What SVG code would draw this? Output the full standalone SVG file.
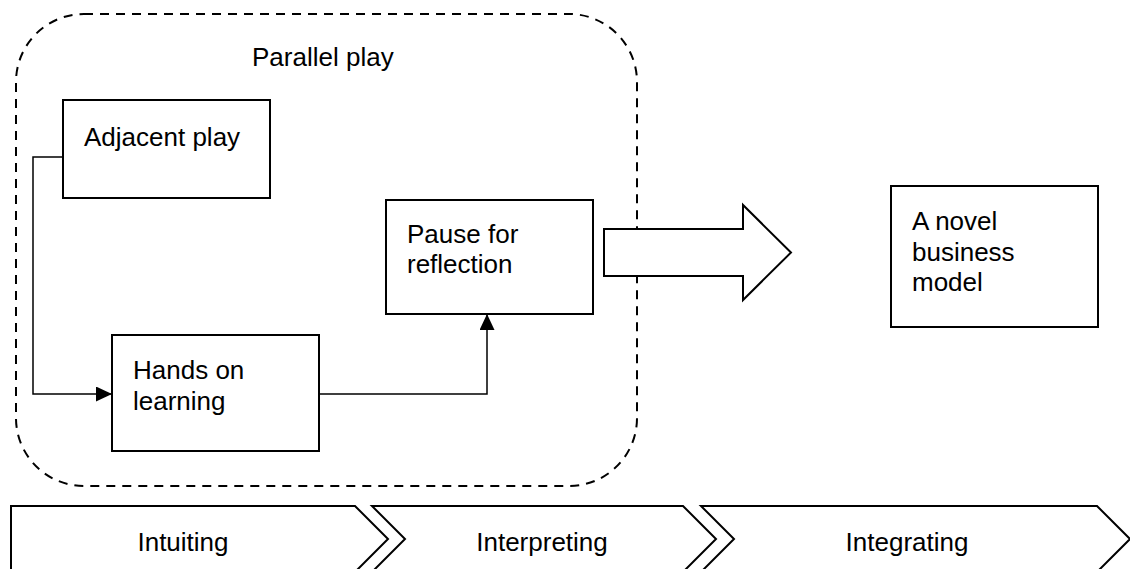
<svg xmlns="http://www.w3.org/2000/svg" width="1130" height="569" viewBox="0 0 1130 569">
  <defs>
    <style>
      .box { fill: #fff; stroke: #000; stroke-width: 2; }
      .group { fill: none; stroke: #000; stroke-width: 2; stroke-dasharray: 9 7; }
      .link { fill: none; stroke: #000; stroke-width: 1.5; }
      .label { font-family: "Liberation Sans", Arial, sans-serif; font-size: 26px; fill: #000; }
      .mid { text-anchor: middle; }
    </style>
    <marker id="arrowhead" viewBox="0 0 16 15" refX="16" refY="7.5" markerWidth="16" markerHeight="15" markerUnits="userSpaceOnUse" orient="auto">
      <path d="M0,0 L16,7.5 L0,15 Z" fill="#000"/>
    </marker>
  </defs>

  <rect width="1130" height="569" fill="#fff"/>

  <!-- Parallel play boundary -->
  <g id="parallel-play">
    <rect class="group" x="16" y="14" width="621" height="472" rx="68" ry="68"/>
    <text class="label" x="252" y="66">Parallel play</text>
  </g>

  <!-- Connectors -->
  <g id="connectors">
    <path class="link" d="M63,157 H33 V394 H112" marker-end="url(#arrowhead)"/>
    <path class="link" d="M319,394 H487 V314" marker-end="url(#arrowhead)"/>
  </g>

  <g id="adjacent-play">
    <rect class="box" x="63" y="100" width="207" height="98"/>
    <text class="label" x="84" y="146">Adjacent play</text>
  </g>

  <g id="hands-on-learning">
    <rect class="box" x="112" y="335" width="207" height="116"/>
    <text class="label" x="133" y="379">Hands on</text>
    <text class="label" x="133" y="410">learning</text>
  </g>

  <g id="pause-for-reflection">
    <rect class="box" x="386" y="200" width="207" height="114"/>
    <text class="label" x="407" y="243">Pause for</text>
    <text class="label" x="407" y="273">reflection</text>
  </g>

  <!-- Block arrow towards the outcome -->
  <g id="block-arrow">
    <polygon class="box" points="604,229 743,229 743,205 791,252.5 743,300 743,276 604,276"/>
  </g>

  <g id="novel-business-model">
    <rect class="box" x="891" y="186" width="207" height="141"/>
    <text class="label" x="912" y="230">A novel</text>
    <text class="label" x="912" y="261">business</text>
    <text class="label" x="912" y="291">model</text>
  </g>

  <!-- Process stages -->
  <g id="stage-intuiting">
    <polygon class="box" points="11,506 355,506 388,539 355,572 11,572"/>
    <text class="label mid" x="183" y="551">Intuiting</text>
  </g>

  <g id="stage-interpreting">
    <polygon class="box" points="372,506 683,506 716,539 683,572 372,572 405,539"/>
    <text class="label mid" x="542" y="551">Interpreting</text>
  </g>

  <g id="stage-integrating">
    <polygon class="box" points="701,506 1097,506 1130,539 1097,572 701,572 734,539"/>
    <text class="label mid" x="907" y="551">Integrating</text>
  </g>
</svg>
